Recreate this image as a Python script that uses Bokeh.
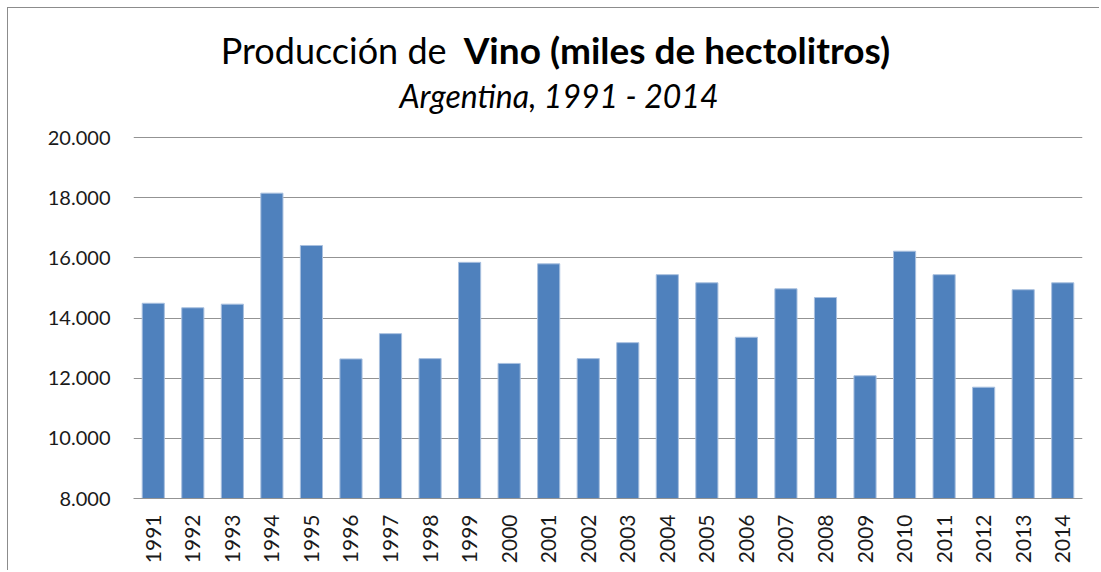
import math
from bokeh.plotting import figure
from bokeh.models import FixedTicker, FactorRange, Range1d
from bokeh.core.properties import value
from bokeh.embed import file_html
from bokeh.resources import INLINE

years = ["1991", "1992", "1993", "1994", "1995", "1996", "1997", "1998",
         "1999", "2000", "2001", "2002", "2003", "2004", "2005", "2006",
         "2007", "2008", "2009", "2010", "2011", "2012", "2013", "2014"]
produccion = [14490, 14340, 14460, 18150, 16410, 12640, 13480, 12650,
              15850, 12490, 15800, 12650, 13180, 15440, 15170, 13360,
              14970, 14680, 12080, 16220, 15440, 11700, 14940, 15170]
y_ticks = [8000, 10000, 12000, 14000, 16000, 18000, 20000]
y_tick_labels = ["8.000", "10.000", "12.000", "14.000", "16.000", "18.000", "20.000"]

title_normal = "Producción  de"
title_bold = "Vino (miles de hectolitros)"
subtitle = "Argentina, 1991 - 2014"

FONT = "Lato"

# layout (pixels on the canvas)
W, H = 1092, 563
B_LEFT, B_RIGHT, B_TOP, B_BOTTOM = 125, 18, 10, 73
frame_h = H - B_TOP - B_BOTTOM
top_gap = 129 - B_TOP          # pixels between frame top and the 20.000 gridline
y_lo, y_hi = y_ticks[0], y_ticks[-1]
y_top = (y_hi - y_lo * top_gap / frame_h) / (1 - top_gap / frame_h)
upp = (y_top - y_lo) / frame_h  # data units per pixel


def y_at(canvas_px):
    return y_top - (canvas_px - B_TOP) * upp


p = figure(x_range=FactorRange(factors=years, range_padding=0),
           y_range=Range1d(y_lo, y_top),
           width=W, height=H, output_backend="svg", toolbar_location=None,
           min_border_left=B_LEFT, min_border_right=B_RIGHT,
           min_border_top=B_TOP, min_border_bottom=B_BOTTOM)
p.title.visible = False
p.styles = {"margin-left": "7px", "margin-top": "7px",
            "border-left": "1px solid #8c8c8c", "border-top": "1px solid #8c8c8c"}
p.outline_line_color = None

p.vbar(x=years, top=produccion, bottom=y_lo, width=0.56,
       fill_color="#4F81BD", line_color="#A9C0DF", line_width=1)

p.xgrid.visible = False
p.ygrid.ticker = FixedTicker(ticks=y_ticks)
p.ygrid.grid_line_color = "#939393"
p.ygrid.grid_line_width = 1

p.yaxis.ticker = FixedTicker(ticks=y_ticks)
p.yaxis.major_label_overrides = {t: l for t, l in zip(y_ticks, y_tick_labels)}
p.yaxis.axis_line_color = None
p.yaxis.major_tick_line_color = None
p.yaxis.minor_tick_line_color = None
p.yaxis.major_label_standoff = 17
p.yaxis.major_label_text_font = FONT
p.yaxis.major_label_text_font_size = "20px"
p.yaxis.major_label_text_color = "#1a1a1a"

p.xaxis.axis_line_color = "#939393"
p.xaxis.major_tick_line_color = None
p.xaxis.minor_tick_line_color = None
p.xaxis.major_label_orientation = math.pi / 2
p.xaxis.major_label_standoff = 10
p.xaxis.major_label_text_font = FONT
p.xaxis.major_label_text_font_size = "21px"
p.xaxis.major_label_text_color = "#1a1a1a"

# titles as text glyphs inside the (extended) frame
p.text(x=[8.15], y=[y_at(41)], text=[title_normal], text_align="right",
       text_baseline="alphabetic", text_font=value(FONT),
       text_font_size="36px", text_color="#000000")
p.text(x=[8.35], y=[y_at(41)], text=[title_bold], text_align="left",
       text_baseline="alphabetic", text_font=value(FONT), text_font_style="bold",
       text_font_size="37px", text_color="#000000")
p.text(x=[10.76], y=[y_at(87)], text=[subtitle], text_align="center",
       text_baseline="alphabetic", text_font=value(FONT), text_font_style="italic",
       text_font_size="32px", text_color="#000000")

open("out.html", "w").write(file_html(p, INLINE))
